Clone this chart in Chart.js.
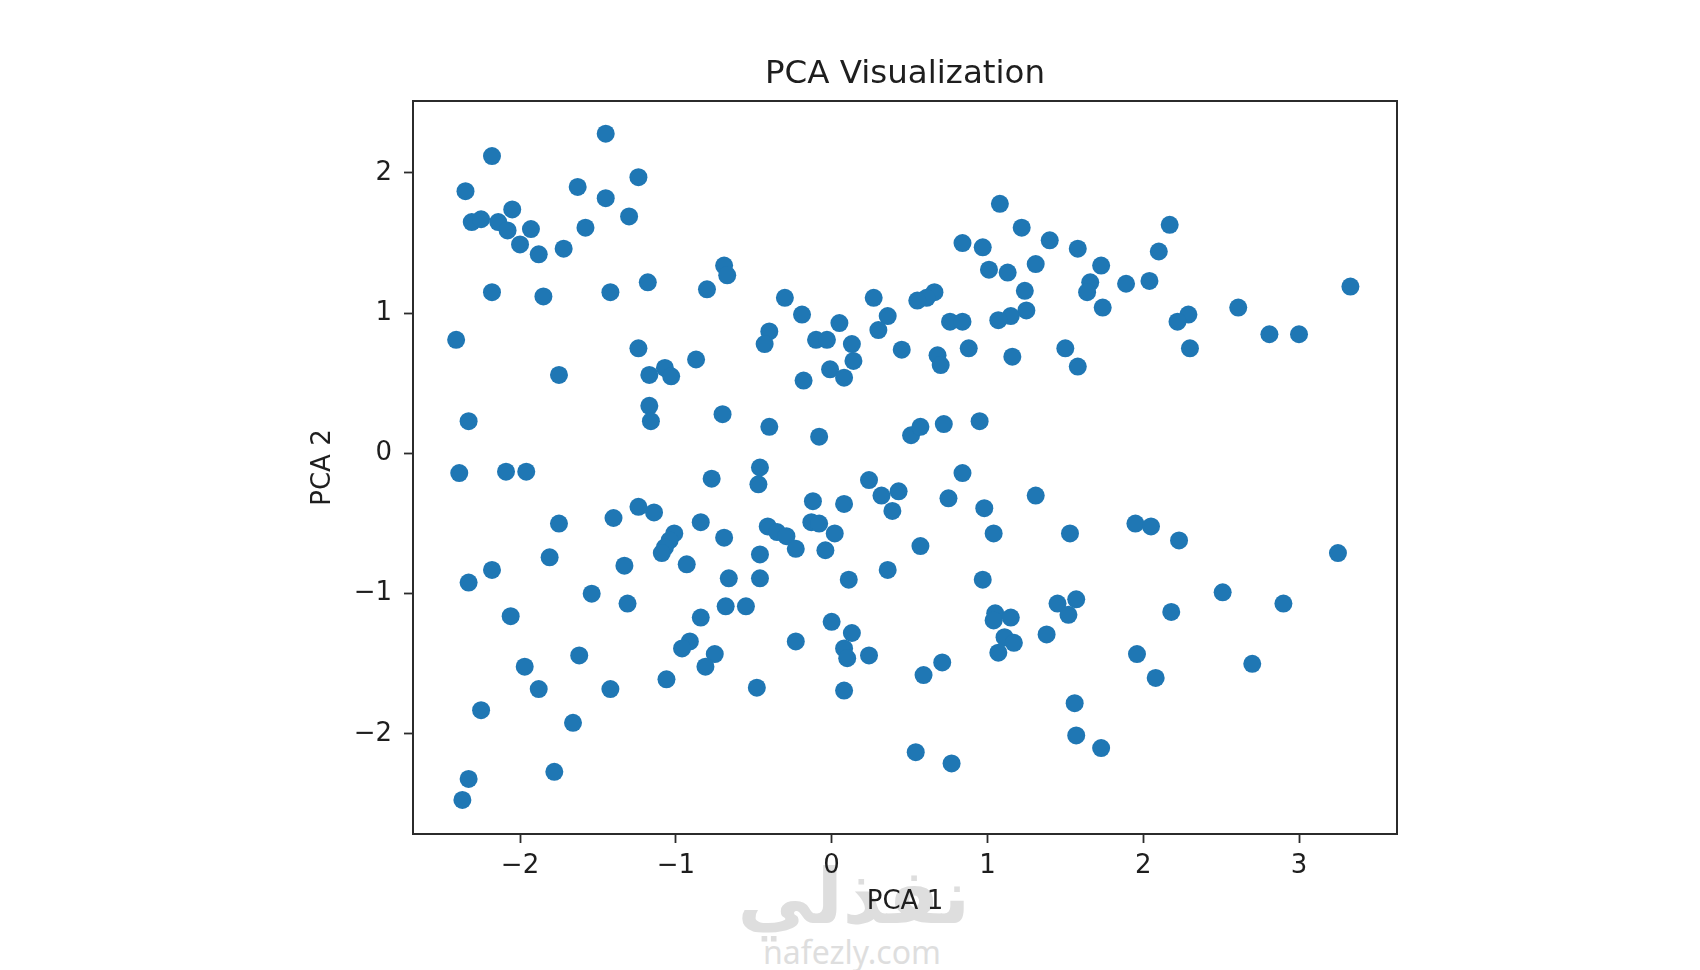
<!DOCTYPE html>
<html>
<head>
<meta charset="utf-8">
<script src="https://cdn.jsdelivr.net/npm/chart.js@4.4.1/dist/chart.umd.min.js"></script>
<style>
  html, body { margin: 0; padding: 0; background: #ffffff; }
  #wrap { position: relative; width: 1700px; height: 970px; overflow: hidden; }
  #chart { position: absolute; left: 0; top: 0; z-index: 2; }
  .wm { position: absolute; z-index: 1; color: #dedede; white-space: nowrap; text-align: center; }
  #wmLogo { left: 770px; top: 852px; width: 200px; font-family: 'DejaVu Sans', sans-serif; font-weight: bold; font-size: 76px; line-height: 90px; }
  #wmSite { left: 752px; top: 934px; width: 200px; font-family: 'Noto Sans', sans-serif; font-size: 32px; line-height: 36px; }
</style>
</head>
<body>
<div id="wrap">
  <div class="wm" id="wmLogo" dir="rtl">نفذلي</div>
  <div class="wm" id="wmSite">nafezly.com</div>
  <canvas id="chart" width="1700" height="970"></canvas>
</div>
<script>
// ---- Data ----
const chartTitle = 'PCA Visualization';
const xAxisLabel = 'PCA 1';
const yAxisLabel = 'PCA 2';
const xTickValues = [-2, -1, 0, 1, 2, 3];
const yTickValues = [-2, -1, 0, 1, 2];
const xRange = [-2.687, 3.629];
const yRange = [-2.713, 2.513];

const pca1 = [
  -1.45, -2.18, -1.24, -2.35, -1.63, -1.45, -2.05, -1.30, -2.31, -2.25,
  -2.14, -2.08, -1.93, -1.58, -2.00, -1.88, -1.72, -0.69, -0.67, -1.18,
  -0.80, -2.18, -1.85, -1.42, -2.41, -1.24, -0.87, -1.17, -1.07, -1.03,
  -1.75, -1.17, -1.16, -0.70, -2.33,
  1.08, 1.22, 0.84, 0.97, 1.40, 1.58, 1.01, 1.13, 1.31, 1.24,
  1.25, 1.15, 1.07, 0.66, 0.61, 0.55, 0.27, 0.36, 0.30, 0.76,
  0.84, 0.88, 0.45, 0.68, 0.70, 1.16, 1.50, 1.58, -0.30, -0.19,
  -0.40, -0.43, 0.05, -0.10, -0.03, 0.13, 0.14, -0.01, 0.08, -0.18,
  -0.40, -0.08, 0.51, 0.57, 0.72, 0.95,
  2.17, 2.10, 1.73, 1.66, 1.64, 1.89, 2.04, 1.74, 3.33, 2.61,
  2.29, 2.22, 2.30, 2.81, 3.00,
  -2.39, -2.09, -1.96, -0.77, -1.24, -1.14, -1.75, -1.40, -0.84, -1.01,
  -1.04, -1.07, -1.09, -0.69, -1.81, -1.33, -0.93, -2.18, -2.33, -0.66,
  -1.54, -1.31, -0.68, -0.55, -2.06, -0.84, -0.91, -0.96, -0.75, -0.81,
  -1.62, -1.97, -1.88, -1.42, -1.06, -2.25, -1.66, -1.78, -2.33, -2.37,
  -0.46, -0.47, 0.24, 0.32, 0.43, 0.39, 0.84, 0.75, 0.98, 1.31,
  -0.12, 0.08, -0.41, -0.35, -0.29, -0.23, -0.13, -0.08, 0.02, -0.04,
  -0.46, -0.46, 0.11, 0.36, 0.57, 1.04, 0.97, 1.53, 0.00, 0.13,
  -0.23, 0.08, 0.10, 0.24, 0.71, 0.59, -0.48, 0.08, 1.05, 1.04,
  1.15, 1.11, 1.17, 1.07, 1.38, 1.45, 1.57, 1.52, 1.56, 1.57,
  0.54, 0.77,
  1.95, 2.05, 2.23, 3.25, 2.51, 2.90, 2.18, 1.96, 2.08, 2.70,
  1.73
];
const pca2 = [
  2.28, 2.12, 1.97, 1.87, 1.90, 1.82, 1.74, 1.69, 1.65, 1.67,
  1.65, 1.59, 1.60, 1.61, 1.49, 1.42, 1.46, 1.34, 1.27, 1.22,
  1.17, 1.15, 1.12, 1.15, 0.81, 0.75, 0.67, 0.56, 0.61, 0.55,
  0.56, 0.34, 0.23, 0.28, 0.23,
  1.78, 1.61, 1.50, 1.47, 1.52, 1.46, 1.31, 1.29, 1.35, 1.16,
  1.02, 0.98, 0.95, 1.15, 1.11, 1.09, 1.11, 0.98, 0.88, 0.94,
  0.94, 0.75, 0.74, 0.70, 0.63, 0.69, 0.75, 0.62, 1.11, 0.99,
  0.87, 0.78, 0.93, 0.81, 0.81, 0.78, 0.66, 0.60, 0.54, 0.52,
  0.19, 0.12, 0.13, 0.19, 0.21, 0.23,
  1.63, 1.44, 1.34, 1.22, 1.15, 1.21, 1.23, 1.04, 1.19, 1.04,
  0.99, 0.94, 0.75, 0.85, 0.85,
  -0.14, -0.13, -0.13, -0.18, -0.38, -0.42, -0.50, -0.46, -0.49, -0.57,
  -0.62, -0.67, -0.71, -0.60, -0.74, -0.80, -0.79, -0.83, -0.92, -0.89,
  -1.00, -1.07, -1.09, -1.09, -1.16, -1.17, -1.34, -1.39, -1.43, -1.52,
  -1.44, -1.52, -1.68, -1.68, -1.61, -1.83, -1.92, -2.27, -2.32, -2.47,
  -0.10, -0.22, -0.19, -0.30, -0.27, -0.41, -0.14, -0.32, -0.39, -0.30,
  -0.34, -0.36, -0.52, -0.56, -0.59, -0.68, -0.49, -0.50, -0.57, -0.69,
  -0.72, -0.89, -0.90, -0.83, -0.66, -0.57, -0.90, -0.57, -1.20, -1.28,
  -1.34, -1.39, -1.46, -1.44, -1.49, -1.58, -1.67, -1.69, -1.14, -1.19,
  -1.17, -1.31, -1.35, -1.42, -1.29, -1.07, -1.04, -1.15, -1.78, -2.01,
  -2.13, -2.21,
  -0.50, -0.52, -0.62, -0.71, -0.99, -1.07, -1.13, -1.43, -1.60, -1.50,
  -2.10
];

// ---- Chart ----
const points = pca1.map((x, i) => ({ x: x, y: pca2[i] }));
const fmt = v => (v < 0 ? '\u2212' + Math.abs(v) : String(v));
const textColor = '#1e1e1e';
const frameColor = '#2b2b2b';

const framePlugin = {
  id: 'frame',
  afterDatasetsDraw(chart) {
    const a = chart.chartArea;
    const ctx = chart.ctx;
    ctx.save();
    ctx.strokeStyle = frameColor;
    ctx.lineWidth = 2;
    ctx.strokeRect(a.left, a.top, a.right - a.left, a.bottom - a.top);
    ctx.restore();
  }
};

Chart.defaults.font.family = "'DejaVu Sans', sans-serif";
Chart.defaults.color = textColor;

new Chart(document.getElementById('chart'), {
  type: 'scatter',
  data: {
    datasets: [{
      label: 'PCA',
      data: points,
      backgroundColor: '#1f77b4',
      borderColor: '#1f77b4',
      borderWidth: 0,
      pointRadius: 9,
      pointHoverRadius: 9,
      xAxisID: 'x',
      yAxisID: 'y'
    }]
  },
  options: {
    responsive: false,
    animation: false,
    devicePixelRatio: 1,
    layout: { padding: { left: 290, right: 180, top: 0, bottom: 36 } },
    plugins: {
      legend: { display: false },
      tooltip: { enabled: false },
      title: {
        display: true,
        text: chartTitle,
        color: textColor,
        font: { size: 32.5, weight: 'normal' },
        padding: { top: 55, bottom: 7 }
      }
    },
    scales: {
      x: {
        type: 'linear',
        min: xRange[0],
        max: xRange[1],
        afterBuildTicks: s => { s.ticks = xTickValues.map(v => ({ value: v })); },
        afterFit: s => { s.height = 100; },
        grid: { drawOnChartArea: false, drawTicks: true, tickLength: 9, tickColor: frameColor, tickWidth: 1.8 },
        border: { display: false },
        ticks: { color: textColor, font: { size: 26 }, padding: 8, callback: v => fmt(v), maxRotation: 0 },
        title: { display: true, text: xAxisLabel, color: textColor, font: { size: 26 }, padding: { top: 0, bottom: 16 } }
      },
      y: {
        type: 'linear',
        position: 'left',
        min: yRange[0],
        max: yRange[1],
        afterBuildTicks: s => { s.ticks = yTickValues.map(v => ({ value: v })); },
        afterFit: s => { s.width = 123; },
        grid: { drawOnChartArea: false, drawTicks: true, tickLength: 9, tickColor: frameColor, tickWidth: 1.8 },
        border: { display: false },
        ticks: { color: textColor, font: { size: 26 }, padding: 12, callback: v => fmt(v) },
        title: { display: true, text: yAxisLabel, color: textColor, font: { size: 26 }, padding: { top: 18, bottom: 0 } }
      },
      yRightSpacer: {
        type: 'linear',
        position: 'right',
        min: yRange[0],
        max: yRange[1],
        afterFit: s => { s.width = 123; },
        grid: { display: false, drawTicks: false },
        border: { display: false },
        ticks: { display: false },
        title: { display: false }
      }
    }
  },
  plugins: [framePlugin]
});
</script>
</body>
</html>
